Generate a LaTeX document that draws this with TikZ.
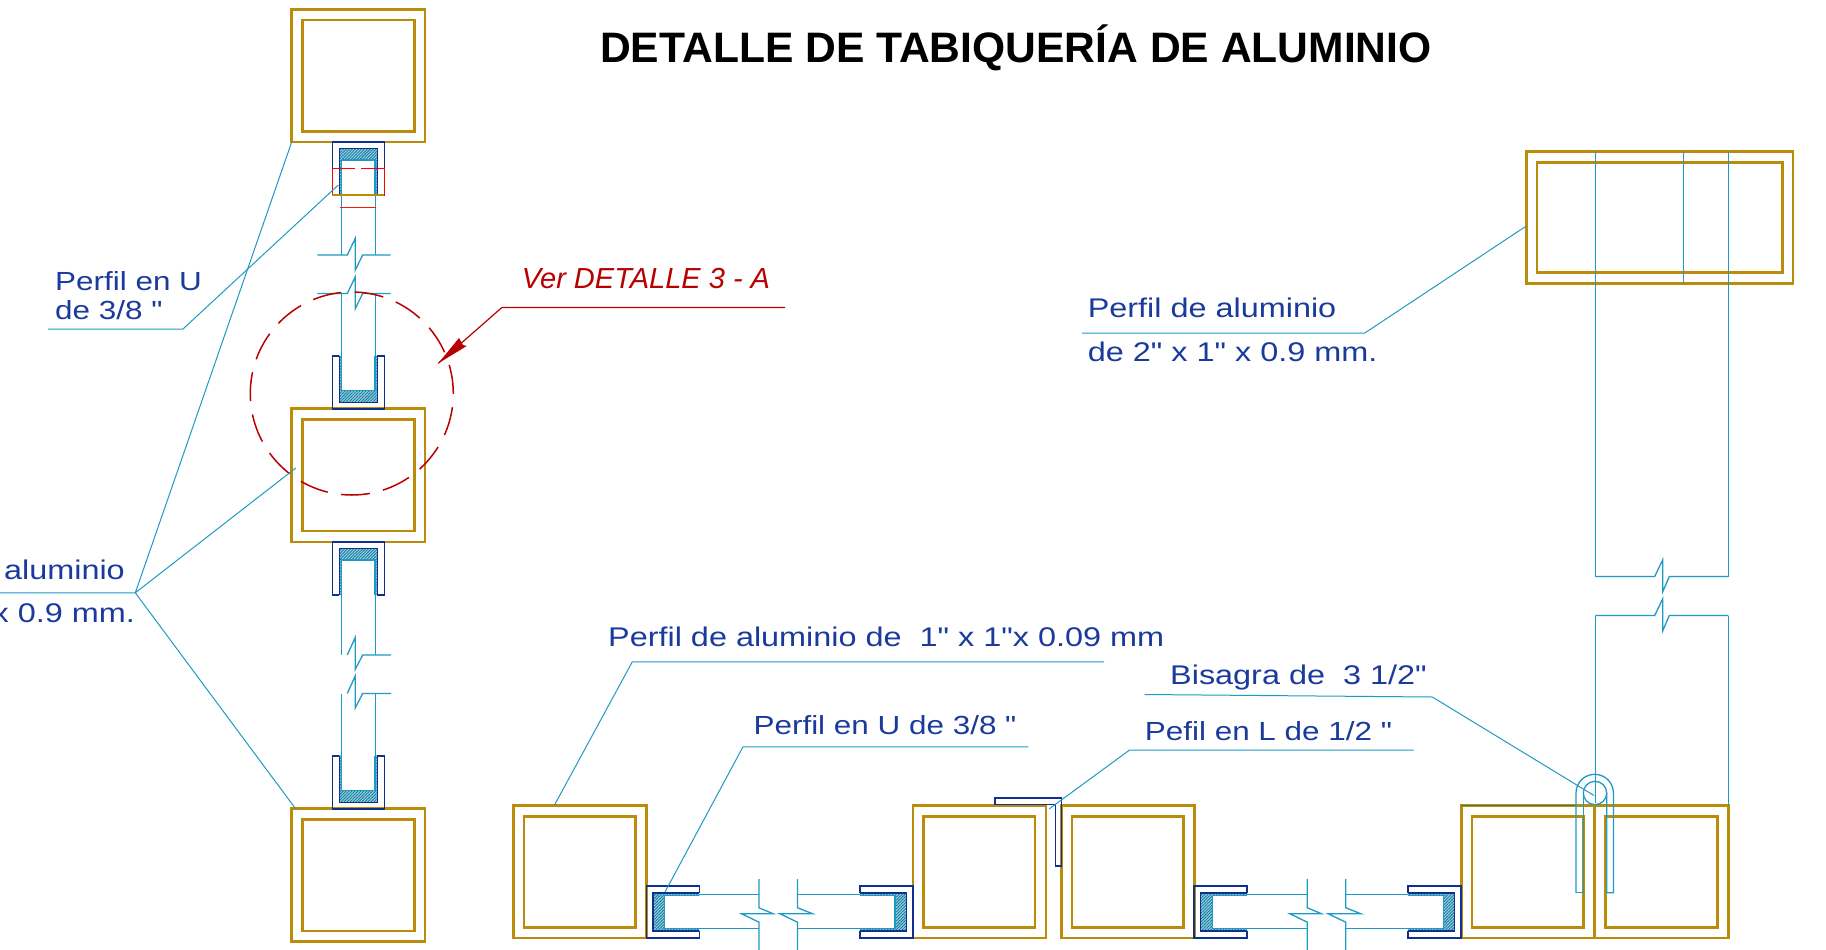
\documentclass[tikz,border=0pt]{standalone}
\usepackage{fontspec}
\usetikzlibrary{patterns.meta}
\setmainfont{Liberation Sans}
\newfontfamily\lblfont[FakeStretch=1.2]{Liberation Sans}
\definecolor{gold}{HTML}{BA8C0A}
\definecolor{navy}{HTML}{10308F}
\definecolor{leadc}{HTML}{1E9BC4}
\definecolor{txtc}{HTML}{1A3A9C}
\definecolor{redc}{HTML}{B80000}
\tikzset{
  frame/.style={draw=gold,line width=2.7pt,line join=miter},
  prof/.style={draw=navy,line width=1.5pt},
  glass/.style={draw=leadc,line width=1.3pt},
  leader/.style={draw=leadc,line width=1pt},
  hatchfill/.style={preaction={fill=leadc!45},pattern={Lines[angle=45,distance=2.1pt,line width=0.9pt]},pattern color=leadc!80!black},
  lbl/.style={inner sep=0pt,text=txtc,font=\lblfont\fontsize{27}{27}\selectfont},
  lblsmall/.style={inner sep=0pt,text=txtc,font=\lblfont\fontsize{26.2}{27}\selectfont},
  redlbl/.style={inner sep=0pt,text=redc,font=\itshape\fontsize{29}{29}\selectfont},
  ttl/.style={inner sep=0pt,text=black,font=\bfseries\fontsize{42.6}{43}\selectfont}
}
\newcommand{\sqtube}[4]{% x0 y0 x1 y1
  \draw[frame] (#1,#2) rectangle (#3,#4);
  \draw[frame] (#1+10.8,#2+10.8) rectangle (#3-10.8,#4-10.8);
}
\newcommand{\uprofile}{% local: base at 0, opening toward +y
  \fill[white] (-19,6.5) rectangle (19,53);
  \path[hatchfill] (-19,6.5) rectangle (19,18);
  \path[hatchfill] (-19,18) rectangle (-16.6,53);
  \path[hatchfill] (16.6,18) rectangle (19,53);
  \draw[prof] (-19,53)--(-19,6.5)--(19,6.5)--(19,53);
  \draw[prof] (-19,53)--(-26,53)--(-26,0)--(26,0)--(26,53)--(19,53);
  \draw[glass] (-16.6,53)--(-16.6,18)--(16.6,18)--(16.6,53);
}
\newcommand{\hrunglass}[1]{% bottom row panel, shifted by #1
  \begin{scope}[shift={(#1,0)}]
    \draw[glass] (664.7,894.8)--(759,894.8) (664.7,928.8)--(759,928.8);
    \draw[glass] (797.5,894.8)--(894.3,894.8) (797.5,928.8)--(894.3,928.8);
    \draw[glass] (759,879)--(759,907.8)--(773.3,913.8)--(741.7,913.8)--(759,922.2)--(759,950);
    \draw[glass] (797.5,879)--(797.5,907.8)--(812.7,913.8)--(780,913.8)--(797.5,922.2)--(797.5,950);
  \end{scope}
}
\begin{document}
\begin{tikzpicture}[x=1pt,y=-1pt]
\useasboundingbox (0,0) rectangle (1826,950);
\clip (0,0) rectangle (1826,950);
\fill[white] (0,0) rectangle (1826,950);

% title
\node[ttl,anchor=base west] (title) at (600,62.5) {DETALLE DE TABIQUERÍA DE ALUMINIO};

% left column tubes
\sqtube{291.7}{9.3}{425}{142}
\sqtube{291.7}{408.8}{425}{541.9}
\sqtube{291.7}{808.8}{425}{941.8}

% left column glass with breaks
\draw[glass] (341.7,160)--(341.7,255) (375.5,160)--(375.5,255);
\draw[glass] (317.3,255)--(347.3,255)--(355.3,238.3)--(355.3,270)--(362.7,255)--(390.7,255);
\draw[glass] (317.3,293.5)--(347.3,293.5)--(355.3,276.8)--(355.3,308.5)--(362.7,293.5)--(390.7,293.5);
\draw[glass] (341.7,293.5)--(341.7,390) (375.5,293.5)--(375.5,390);
\draw[glass] (341.7,560)--(341.7,655) (375.5,560)--(375.5,655);
\draw[glass] (347.3,655)--(355.3,637.3)--(355.3,669.3)--(362.7,655)--(391,655);
\draw[glass] (347.3,693.5)--(355.3,675.8)--(355.3,707.8)--(362.7,693.5)--(391,693.5);
\draw[glass] (341.7,693.5)--(341.7,790) (375.5,693.5)--(375.5,790);

% left column U profiles
\begin{scope}[shift={(358.3,142)},x={(1pt,0pt)},y={(0pt,-1pt)}]\uprofile\end{scope}
\begin{scope}[shift={(358.3,408.8)},x={(1pt,0pt)},y={(0pt,1pt)}]\uprofile\end{scope}
\begin{scope}[shift={(358.3,541.9)},x={(1pt,0pt)},y={(0pt,-1pt)}]\uprofile\end{scope}
\begin{scope}[shift={(358.3,808.8)},x={(1pt,0pt)},y={(0pt,1pt)}]\uprofile\end{scope}

% red section mark at top U
\draw[red,line width=1.3pt] (332.3,195)--(332.3,168.3)--(355,168.3) (361,168.3)--(384.3,168.3)--(384.3,195);
\draw[gold,line width=1.8pt] (332.3,195)--(384.3,195);
\draw[red!80!orange,line width=1.5pt] (340,207.7)--(376,207.7);

% bottom row tubes
\sqtube{513.3}{805.4}{646.3}{938}
\sqtube{912.9}{805.4}{1045.9}{938}
\sqtube{1061.2}{805.4}{1194.2}{938}
\sqtube{1461.2}{805.4}{1594.2}{938}
\sqtube{1595}{805.4}{1728.3}{938}
\draw[draw=teal!70!gold,line width=1.6pt] (1461.2,805.4)--(1576,805.4);

% bottom row glass and U profiles
\hrunglass{0}
\hrunglass{548.3}
\begin{scope}[shift={(646.3,911.8)},x={(0pt,1pt)},y={(1pt,0pt)}]\uprofile\end{scope}
\begin{scope}[shift={(912.9,911.8)},x={(0pt,1pt)},y={(-1pt,0pt)}]\uprofile\end{scope}
\begin{scope}[shift={(1194.2,911.8)},x={(0pt,1pt)},y={(1pt,0pt)}]\uprofile\end{scope}
\begin{scope}[shift={(1461.2,911.8)},x={(0pt,1pt)},y={(-1pt,0pt)}]\uprofile\end{scope}

% L profile
\draw[prof] (995,797.8)--(1061.7,797.8)--(1061.7,865.8)--(1055.3,865.8)--(1055.3,804.5)--(995,804.5)--cycle;

% top-right tube and door
\sqtube{1526.3}{151.8}{1793}{283.4}
\draw[glass] (1595.3,151.8)--(1595.3,576.5) (1728.3,151.8)--(1728.3,576.5);
\draw[glass] (1683.5,151.8)--(1683.5,283.4);
\draw[glass] (1595.3,576.5)--(1654.7,576.5)--(1662.7,559.8)--(1662.7,591.8)--(1669.3,576.5)--(1728.3,576.5);
\draw[glass] (1595.3,615.5)--(1654.7,615.5)--(1662.7,598.8)--(1662.7,630.8)--(1669.3,615.5)--(1728.3,615.5);
\draw[glass] (1595.3,615.5)--(1595.3,803) (1728.3,615.5)--(1728.3,805);

% hinge
\draw[glass] (1576,892.8)--(1576,793) arc[start angle=180,end angle=0,radius=18.7pt]--(1613.4,892.8)--(1606.7,892.8)--(1606.7,793);
\draw[glass] (1576,892.8)--(1583.3,892.8)--(1583.3,793);
\draw[glass] (1595,793) circle[radius=11.7pt];

% red detail circle and arrow
\draw[redc,line width=1.5pt,dash pattern=on 29pt off 13.5pt] (351.8,393.5) circle[radius=101.5pt];
\coordinate (arrowEnd) at (785,307.4);
\coordinate (arrowKnee) at (502,307.4);
\coordinate (arrowTip) at (438.3,363.3);
\draw[redc,line width=1.2pt] (arrowEnd)--(arrowKnee)--(arrowTip);
\fill[redc] (arrowTip)--(459,338)--(463,345)--(466.7,346)--cycle;

% texts
\node[redlbl,anchor=base west] (verdet) at (521.7,288.5) {Ver DETALLE 3 - A};
\node[lblsmall,anchor=base west] (pu1a) at (55,290.5) {Perfil en U};
\node[lblsmall,anchor=base west] (pu1b) at (55,319) {de 3/8 "};
\node[lbl,anchor=base east] (pa1a) at (125,579.3) {aluminio};
\node[lbl,anchor=base east] (pa1b) at (135,622.7) {x 0.9 mm.};
\node[lbl,anchor=base west] (pa2a) at (1087.6,317.5) {Perfil de aluminio};
\node[lbl,anchor=base west] (pa2b) at (1087.6,361) {de 2" x 1" x 0.9 mm.};
\node[lbl,anchor=base west] (pa3) at (608,646.3) {Perfil de aluminio de\ \ 1" x 1"x 0.09 mm};
\node[lblsmall,anchor=base west] (pu2) at (753.4,734.8) {Perfil en U de 3/8 "};
\node[lbl,anchor=base west] (bis) at (1170,684.7) {Bisagra de\ \ 3 1/2"};
\node[lblsmall,anchor=base west] (pel) at (1144.7,740.6) {Pefil en L de 1/2 "};

% leaders
\coordinate (a1) at (48,329); \coordinate (a2) at (183,329); \coordinate (a3) at (338.3,185);
\draw[leader] (a1)--(a2)--(a3);
\coordinate (b0) at (0,592.8); \coordinate (b1) at (135.3,592.8);
\coordinate (b2) at (291.7,142); \coordinate (b3) at (295.8,468); \coordinate (b4) at (295.8,809);
\draw[leader] (b0)--(b1)--(b2) (b1)--(b3) (b1)--(b4);
\coordinate (c1) at (1082,333); \coordinate (c2) at (1364.8,333); \coordinate (c3) at (1526.3,226);
\draw[leader] (c1)--(c2)--(c3);
\coordinate (d1) at (1104,661.8); \coordinate (d2) at (632.3,661.8); \coordinate (d3) at (554.3,805.4);
\draw[leader] (d1)--(d2)--(d3);
\coordinate (e1) at (1028.3,746.8); \coordinate (e2) at (743,746.8); \coordinate (e3) at (665,892);
\draw[leader] (e1)--(e2)--(e3);
\coordinate (f1) at (1413.7,750); \coordinate (f2) at (1129.6,750); \coordinate (f3) at (1049.3,808.8);
\draw[leader] (f1)--(f2)--(f3);
\coordinate (g1) at (1144.7,694.5); \coordinate (g2) at (1432.3,697); \coordinate (g3) at (1594,795.5);
\draw[leader] (g1)--(g2)--(g3);
\end{tikzpicture}
\end{document}
